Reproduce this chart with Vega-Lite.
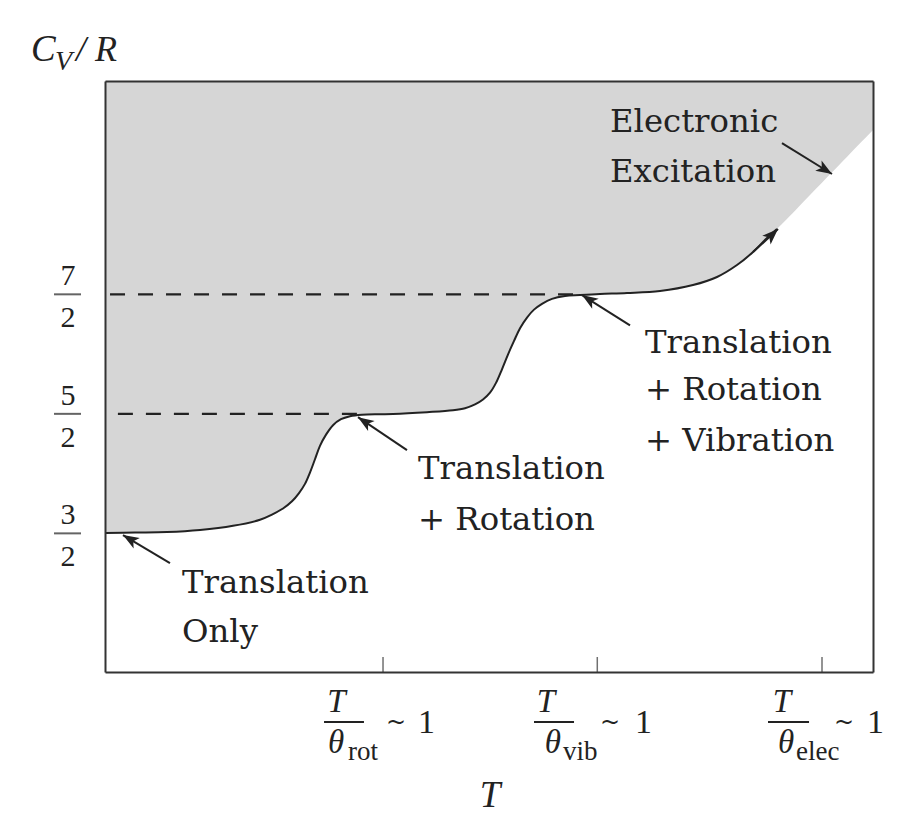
{
  "$schema": "https://vega.github.io/schema/vega-lite/v6.json",
  "width": 768,
  "height": 591,
  "autosize": {"type": "none"},
  "padding": {"left": 105, "top": 81, "right": 47, "bottom": 168},
  "background": "white",
  "config": {"view": {"stroke": null, "fill": "#d6d6d6"}},
  "resolve": {"axis": {"x": "independent", "y": "independent"}},
  "datasets": {
    "boundary": [
      {"x": 0, "y": 1.503, "drawn": true},
      {"x": 0.391, "y": 1.507, "drawn": true},
      {"x": 0.807, "y": 1.511, "drawn": true},
      {"x": 1.237, "y": 1.528, "drawn": true},
      {"x": 1.667, "y": 1.563, "drawn": true},
      {"x": 2.018, "y": 1.614, "drawn": true},
      {"x": 2.174, "y": 1.657, "drawn": true},
      {"x": 2.318, "y": 1.708, "drawn": true},
      {"x": 2.435, "y": 1.768, "drawn": true},
      {"x": 2.526, "y": 1.837, "drawn": true},
      {"x": 2.604, "y": 1.914, "drawn": true},
      {"x": 2.669, "y": 2.009, "drawn": true},
      {"x": 2.734, "y": 2.12, "drawn": true},
      {"x": 2.799, "y": 2.232, "drawn": true},
      {"x": 2.878, "y": 2.326, "drawn": true},
      {"x": 2.969, "y": 2.405, "drawn": true},
      {"x": 3.073, "y": 2.455, "drawn": true},
      {"x": 3.19, "y": 2.48, "drawn": true},
      {"x": 3.346, "y": 2.493, "drawn": true},
      {"x": 3.581, "y": 2.497, "drawn": true},
      {"x": 3.75, "y": 2.499, "drawn": true},
      {"x": 4.193, "y": 2.514, "drawn": true},
      {"x": 4.531, "y": 2.53, "drawn": true},
      {"x": 4.688, "y": 2.547, "drawn": true},
      {"x": 4.818, "y": 2.579, "drawn": true},
      {"x": 4.922, "y": 2.62, "drawn": true},
      {"x": 5.013, "y": 2.677, "drawn": true},
      {"x": 5.091, "y": 2.759, "drawn": true},
      {"x": 5.169, "y": 2.873, "drawn": true},
      {"x": 5.247, "y": 2.996, "drawn": true},
      {"x": 5.326, "y": 3.11, "drawn": true},
      {"x": 5.404, "y": 3.217, "drawn": true},
      {"x": 5.495, "y": 3.306, "drawn": true},
      {"x": 5.586, "y": 3.372, "drawn": true},
      {"x": 5.69, "y": 3.421, "drawn": true},
      {"x": 5.82, "y": 3.462, "drawn": true},
      {"x": 5.99, "y": 3.486, "drawn": true},
      {"x": 6.185, "y": 3.494, "drawn": true},
      {"x": 6.445, "y": 3.503, "drawn": true},
      {"x": 6.797, "y": 3.511, "drawn": true},
      {"x": 7.227, "y": 3.528, "drawn": true},
      {"x": 7.656, "y": 3.578, "drawn": true},
      {"x": 7.969, "y": 3.645, "drawn": true},
      {"x": 8.229, "y": 3.745, "drawn": true},
      {"x": 8.438, "y": 3.854, "drawn": true},
      {"x": 8.62, "y": 3.971, "drawn": true},
      {"x": 8.75, "y": 4.046, "drawn": true},
      {"x": 9.375, "y": 4.46, "drawn": false},
      {"x": 10, "y": 4.875, "drawn": false}
    ],
    "levels": [
      {"lvl": 1.5, "num": "3", "den": "2"},
      {"lvl": 2.5, "num": "5", "den": "2", "xend": 3.28},
      {"lvl": 3.5, "num": "7", "den": "2", "xend": 6.094}
    ],
    "xticks": [{"t": 3.62}, {"t": 6.41}, {"t": 9.336}],
    "arrows": [
      {"name": "only", "x": 0.846, "y": 1.251, "x2": 0.234, "y2": 1.486},
      {"name": "rot", "x": 3.932, "y": 2.197, "x2": 3.294, "y2": 2.472},
      {"name": "vib", "x": 6.836, "y": 3.241, "x2": 6.211, "y2": 3.494},
      {"name": "elec", "x": 8.815, "y": 4.766, "x2": 9.466, "y2": 4.507},
      {"name": "curve", "x": 8.438, "y": 3.854, "x2": 8.763, "y2": 4.046}
    ],
    "notes": [
      {"x": 1.003, "y": 1.0, "t": "Translation"},
      {"x": 1.003, "y": 0.59, "t": "Only"},
      {"x": 4.076, "y": 1.957, "t": "Translation"},
      {"x": 4.076, "y": 1.528, "t": "+ Rotation"},
      {"x": 7.031, "y": 3.012, "t": "Translation"},
      {"x": 7.031, "y": 2.612, "t": "+ Rotation"},
      {"x": 7.031, "y": 2.189, "t": "+ Vibration"},
      {"x": 6.576, "y": 4.858, "t": "Electronic"},
      {"x": 6.576, "y": 4.44, "t": "Excitation"}
    ],
    "xlab": [
      {"el": "num", "x": 3.014, "y": 0.005, "t": "T"},
      {"el": "num", "x": 5.742, "y": 0.005, "t": "T"},
      {"el": "num", "x": 8.815, "y": 0.005, "t": "T"},
      {"el": "bar", "x": 2.852, "x2": 3.372, "y": -0.079},
      {"el": "bar", "x": 5.586, "x2": 6.107, "y": -0.079},
      {"el": "bar", "x": 8.633, "x2": 9.167, "y": -0.079},
      {"el": "den", "x": 3.008, "y": -0.338, "t": "θ"},
      {"el": "den", "x": 5.833, "y": -0.338, "t": "θ"},
      {"el": "den", "x": 8.867, "y": -0.338, "t": "θ"},
      {"el": "sub", "x": 3.164, "y": -0.397, "t": "rot"},
      {"el": "sub", "x": 5.964, "y": -0.397, "t": "vib"},
      {"el": "sub", "x": 8.997, "y": -0.397, "t": "elec"},
      {"el": "sim", "x": 3.659, "y": -0.146, "t": "~"},
      {"el": "sim", "x": 6.445, "y": -0.146, "t": "~"},
      {"el": "sim", "x": 9.492, "y": -0.146, "t": "~"},
      {"el": "one", "x": 4.076, "y": -0.171, "t": "1"},
      {"el": "one", "x": 6.901, "y": -0.171, "t": "1"},
      {"el": "one", "x": 9.922, "y": -0.171, "t": "1"},
      {"el": "title", "x": 5.013, "y": -0.79, "t": "T"}
    ],
    "ylab": [
      {"el": "C", "x": -0.965, "y": 5.452, "t": "C"},
      {"el": "V", "x": -0.651, "y": 5.377, "t": "V"},
      {"el": "R", "x": -0.378, "y": 5.452, "t": "/ R"}
    ]
  },
  "layer": [
    {
      "data": {"name": "boundary"},
      "mark": {"type": "area", "color": "white", "interpolate": "catmull-rom", "clip": true},
      "encoding": {
        "x": {"field": "x", "type": "quantitative", "scale": {"domain": [0, 10], "nice": false, "zero": false},
          "axis": {"orient": "bottom", "labels": false, "ticks": false, "title": null, "grid": false, "domainColor": "#333", "domainWidth": 2, "zindex": 1}},
        "y": {"field": "y", "type": "quantitative", "scale": {"domain": [0.34, 5.285], "nice": false, "zero": false},
          "axis": {"orient": "left", "labels": false, "ticks": false, "title": null, "grid": false, "domainColor": "#333", "domainWidth": 2, "zindex": 1}}
      }
    },
    {
      "data": {"name": "levels"},
      "transform": [{"filter": "isValid(datum.xend)"}],
      "mark": {"type": "rule", "color": "#222", "strokeWidth": 2.2, "strokeDash": [15, 13]},
      "encoding": {
        "x": {"field": "xend", "type": "quantitative", "axis": null},
        "x2": {"value": 0},
        "y": {"field": "lvl", "type": "quantitative", "axis": null}
      }
    },
    {
      "data": {"name": "boundary"},
      "transform": [{"filter": "datum.drawn"}],
      "mark": {"type": "line", "color": "#222", "strokeWidth": 2, "interpolate": "catmull-rom"},
      "encoding": {
        "x": {"field": "x", "type": "quantitative",
          "axis": {"orient": "top", "labels": false, "ticks": false, "title": null, "grid": false, "domainColor": "#333", "domainWidth": 2, "zindex": 1}},
        "y": {"field": "y", "type": "quantitative",
          "axis": {"orient": "right", "labels": false, "ticks": false, "title": null, "grid": false, "domainColor": "#333", "domainWidth": 2, "zindex": 1}}
      }
    },
    {
      "data": {"name": "xticks"},
      "mark": {"type": "tick", "orient": "vertical", "color": "#333", "size": 15, "thickness": 1.5},
      "encoding": {
        "x": {"field": "t", "type": "quantitative", "axis": null},
        "y": {"datum": 0.403, "type": "quantitative", "axis": null}
      }
    },
    {
      "data": {"name": "arrows"},
      "mark": {"type": "rule", "color": "#222", "strokeWidth": 2},
      "encoding": {
        "x": {"field": "x", "type": "quantitative", "axis": null},
        "y": {"field": "y", "type": "quantitative", "axis": null},
        "x2": {"field": "x2"},
        "y2": {"field": "y2"}
      }
    },
    {
      "data": {"name": "arrows"},
      "transform": [{"filter": "datum.name === 'only'"}],
      "mark": {"type": "point", "shape": "M0,0L-0.75,2L0,1.5L0.75,2Z", "filled": true, "color": "#222", "opacity": 1, "size": 256, "angle": 300.8},
      "encoding": {"x": {"field": "x2", "type": "quantitative", "axis": null}, "y": {"field": "y2", "type": "quantitative", "axis": null}}
    },
    {
      "data": {"name": "arrows"},
      "transform": [{"filter": "datum.name === 'rot'"}],
      "mark": {"type": "point", "shape": "M0,0L-0.75,2L0,1.5L0.75,2Z", "filled": true, "color": "#222", "opacity": 1, "size": 256, "angle": 303.2},
      "encoding": {"x": {"field": "x2", "type": "quantitative", "axis": null}, "y": {"field": "y2", "type": "quantitative", "axis": null}}
    },
    {
      "data": {"name": "arrows"},
      "transform": [{"filter": "datum.name === 'vib'"}],
      "mark": {"type": "point", "shape": "M0,0L-0.75,2L0,1.5L0.75,2Z", "filled": true, "color": "#222", "opacity": 1, "size": 256, "angle": 302.9},
      "encoding": {"x": {"field": "x2", "type": "quantitative", "axis": null}, "y": {"field": "y2", "type": "quantitative", "axis": null}}
    },
    {
      "data": {"name": "arrows"},
      "transform": [{"filter": "datum.name === 'elec'"}],
      "mark": {"type": "point", "shape": "M0,0L-0.75,2L0,1.5L0.75,2Z", "filled": true, "color": "#222", "opacity": 1, "size": 256, "angle": 121.8},
      "encoding": {"x": {"field": "x2", "type": "quantitative", "axis": null}, "y": {"field": "y2", "type": "quantitative", "axis": null}}
    },
    {
      "data": {"name": "arrows"},
      "transform": [{"filter": "datum.name === 'curve'"}],
      "mark": {"type": "point", "shape": "M0,0L-0.75,2L0,1.5L0.75,2Z", "filled": true, "color": "#222", "opacity": 1, "size": 256, "angle": 46.2},
      "encoding": {"x": {"field": "x2", "type": "quantitative", "axis": null}, "y": {"field": "y2", "type": "quantitative", "axis": null}}
    },
    {
      "data": {"name": "notes"},
      "mark": {"type": "text", "align": "left", "baseline": "alphabetic", "font": "DejaVu Serif", "fontSize": 32.3, "color": "#222"},
      "encoding": {
        "x": {"field": "x", "type": "quantitative", "axis": null},
        "y": {"field": "y", "type": "quantitative", "axis": null},
        "text": {"field": "t", "type": "nominal"}
      }
    },
    {
      "data": {"name": "levels"},
      "mark": {"type": "text", "align": "center", "baseline": "alphabetic", "font": "Liberation Serif", "fontSize": 30, "color": "#222", "dy": -9},
      "encoding": {
        "x": {"datum": -0.482, "type": "quantitative", "axis": null},
        "y": {"field": "lvl", "type": "quantitative", "axis": null},
        "text": {"field": "num", "type": "nominal"}
      }
    },
    {
      "data": {"name": "levels"},
      "mark": {"type": "text", "align": "center", "baseline": "alphabetic", "font": "Liberation Serif", "fontSize": 30, "color": "#222", "dy": 33},
      "encoding": {
        "x": {"datum": -0.482, "type": "quantitative", "axis": null},
        "y": {"field": "lvl", "type": "quantitative", "axis": null},
        "text": {"field": "den", "type": "nominal"}
      }
    },
    {
      "data": {"name": "levels"},
      "mark": {"type": "tick", "orient": "horizontal", "color": "#222", "size": 27, "thickness": 2},
      "encoding": {
        "x": {"datum": -0.488, "type": "quantitative", "axis": null},
        "y": {"field": "lvl", "type": "quantitative", "axis": null}
      }
    },
    {
      "data": {"name": "xlab"},
      "transform": [{"filter": "datum.el === 'num'"}],
      "mark": {"type": "text", "align": "center", "baseline": "alphabetic", "font": "Liberation Serif", "fontStyle": "italic", "fontSize": 33, "color": "#222"},
      "encoding": {
        "x": {"field": "x", "type": "quantitative", "axis": null},
        "y": {"field": "y", "type": "quantitative", "axis": null},
        "text": {"field": "t", "type": "nominal"}
      }
    },
    {
      "data": {"name": "xlab"},
      "transform": [{"filter": "datum.el === 'bar'"}],
      "mark": {"type": "rule", "color": "#222", "strokeWidth": 2},
      "encoding": {
        "x": {"field": "x", "type": "quantitative", "axis": null},
        "x2": {"field": "x2"},
        "y": {"field": "y", "type": "quantitative", "axis": null}
      }
    },
    {
      "data": {"name": "xlab"},
      "transform": [{"filter": "datum.el === 'den'"}],
      "mark": {"type": "text", "align": "center", "baseline": "alphabetic", "font": "Liberation Serif", "fontStyle": "italic", "fontSize": 33, "color": "#222"},
      "encoding": {
        "x": {"field": "x", "type": "quantitative", "axis": null},
        "y": {"field": "y", "type": "quantitative", "axis": null},
        "text": {"field": "t", "type": "nominal"}
      }
    },
    {
      "data": {"name": "xlab"},
      "transform": [{"filter": "datum.el === 'sub'"}],
      "mark": {"type": "text", "align": "left", "baseline": "alphabetic", "font": "Liberation Serif", "fontSize": 27, "color": "#222"},
      "encoding": {
        "x": {"field": "x", "type": "quantitative", "axis": null},
        "y": {"field": "y", "type": "quantitative", "axis": null},
        "text": {"field": "t", "type": "nominal"}
      }
    },
    {
      "data": {"name": "xlab"},
      "transform": [{"filter": "datum.el === 'sim'"}],
      "mark": {"type": "text", "align": "left", "baseline": "alphabetic", "font": "DejaVu Serif", "fontSize": 24, "color": "#222"},
      "encoding": {
        "x": {"field": "x", "type": "quantitative", "axis": null},
        "y": {"field": "y", "type": "quantitative", "axis": null},
        "text": {"field": "t", "type": "nominal"}
      }
    },
    {
      "data": {"name": "xlab"},
      "transform": [{"filter": "datum.el === 'one'"}],
      "mark": {"type": "text", "align": "left", "baseline": "alphabetic", "font": "Liberation Serif", "fontSize": 34, "color": "#222"},
      "encoding": {
        "x": {"field": "x", "type": "quantitative", "axis": null},
        "y": {"field": "y", "type": "quantitative", "axis": null},
        "text": {"field": "t", "type": "nominal"}
      }
    },
    {
      "data": {"name": "xlab"},
      "transform": [{"filter": "datum.el === 'title'"}],
      "mark": {"type": "text", "align": "center", "baseline": "alphabetic", "font": "Liberation Serif", "fontStyle": "italic", "fontSize": 37, "color": "#222"},
      "encoding": {
        "x": {"field": "x", "type": "quantitative", "axis": null},
        "y": {"field": "y", "type": "quantitative", "axis": null},
        "text": {"field": "t", "type": "nominal"}
      }
    },
    {
      "data": {"name": "ylab"},
      "transform": [{"filter": "datum.el === 'C'"}],
      "mark": {"type": "text", "align": "left", "baseline": "alphabetic", "font": "Liberation Serif", "fontStyle": "italic", "fontSize": 37, "color": "#222"},
      "encoding": {
        "x": {"field": "x", "type": "quantitative", "axis": null},
        "y": {"field": "y", "type": "quantitative", "axis": null},
        "text": {"field": "t", "type": "nominal"}
      }
    },
    {
      "data": {"name": "ylab"},
      "transform": [{"filter": "datum.el === 'V'"}],
      "mark": {"type": "text", "align": "left", "baseline": "alphabetic", "font": "Liberation Serif", "fontStyle": "italic", "fontSize": 28, "color": "#222"},
      "encoding": {
        "x": {"field": "x", "type": "quantitative", "axis": null},
        "y": {"field": "y", "type": "quantitative", "axis": null},
        "text": {"field": "t", "type": "nominal"}
      }
    },
    {
      "data": {"name": "ylab"},
      "transform": [{"filter": "datum.el === 'R'"}],
      "mark": {"type": "text", "align": "left", "baseline": "alphabetic", "font": "Liberation Serif", "fontStyle": "italic", "fontSize": 36, "color": "#222"},
      "encoding": {
        "x": {"field": "x", "type": "quantitative", "axis": null},
        "y": {"field": "y", "type": "quantitative", "axis": null},
        "text": {"field": "t", "type": "nominal"}
      }
    }
  ]
}
